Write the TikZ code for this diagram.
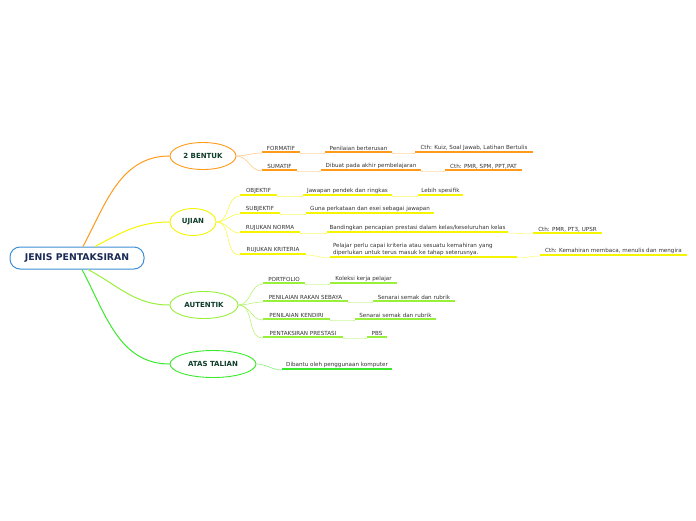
\documentclass[tikz,border=0pt]{standalone}
\usepackage{fontspec}
\setmainfont{DejaVu Sans}
\usepackage{tikz}
\usetikzlibrary{shapes.geometric,positioning,calc}

\definecolor{rootblue}{HTML}{3D8FD6}
\definecolor{rootink}{HTML}{1B2A55}
\definecolor{topink}{HTML}{0F3D2A}
\definecolor{leafink}{HTML}{333333}
\definecolor{bOrange}{HTML}{FF9A1A}
\definecolor{bYellow}{HTML}{F5F500}
\definecolor{bLime}{HTML}{99F03C}
\definecolor{bGreen}{HTML}{3AEA2A}

\begin{document}
\begin{tikzpicture}[x=1pt,y=-1pt,
    root/.style={rectangle,draw=rootblue,line width=1pt,rounded corners=10pt,
                 fill=white,minimum width=134pt,minimum height=22pt,
                 text=rootink,font=\bfseries\fontsize{9.3}{11}\selectfont},
    topic/.style={ellipse,draw=#1,line width=0.9pt,fill=white,inner sep=0pt,
                  minimum height=27pt,text=topink,
                  font=\bfseries\fontsize{7}{8}\selectfont},
    leaf/.style={inner xsep=1pt,inner ysep=2pt,anchor=south,text=leafink,
                 font=\fontsize{5.6}{7}\selectfont,
                 path picture={\draw[#1,line width=3pt]
                   (path picture bounding box.south west) --
                   (path picture bounding box.south east);}},
    branch/.style={draw=#1,line width=1pt},
    link/.style={draw=#1,line width=0.5pt}]
    \useasboundingbox (0,0) rectangle (696,520);

    % centre
    \node[root](root) at (77,258){JENIS PENTAKSIRAN};

    % main topics
    \node[topic=bOrange,minimum width=66pt](bentuk) at (203,156){2 BENTUK};
    \node[topic=bYellow,minimum width=46pt](ujian) at (193,222){UJIAN};
    \node[topic=bLime,minimum width=68pt](autentik) at (204,305){AUTENTIK};
    \node[topic=bGreen,minimum width=86pt](talian) at (213,364){ATAS TALIAN};

    \draw[branch=bOrange]($(root.north)+(6,0)$) to[out=62,in=180](bentuk.west);
    \draw[branch=bYellow]($(root.north)+(18,0)$) to[out=28,in=180](ujian.west);
    \draw[branch=bLime]($(root.south)+(11,0)$) to[out=-28,in=180](autentik.west);
    \draw[branch=bGreen]($(root.south)+(5,0)$) to[out=-62,in=180](talian.west);

    % 2 BENTUK
    \node[leaf=bOrange,minimum width=38pt](formatif) at (281,153){FORMATIF};
    \node[leaf=bOrange,minimum width=67pt](fdesc) at (358.5,153){Penilaian berterusan};
    \node[leaf=bOrange,minimum width=118pt](fcth) at (474,153){Cth: Kuiz, Soal Jawab, Latihan Bertulis};
    \node[leaf=bOrange,minimum width=35pt](sumatif) at (279.5,171){SUMATIF};
    \node[leaf=bOrange,minimum width=100pt](sdesc) at (371,171){Dibuat pada akhir pembelajaran};
    \node[leaf=bOrange,minimum width=77pt](scth) at (483.5,171){Cth: PMR, SPM, PPT,PAT};

    \draw[link=bOrange!60](bentuk.east) to[out=0,in=180](formatif.south west);
    \draw[link=bOrange!60](bentuk.east) to[out=0,in=180](sumatif.south west);
    \draw[link=bOrange!40](formatif.south east) to[out=0,in=180](fdesc.south west);
    \draw[link=bOrange!40](fdesc.south east) to[out=0,in=180](fcth.south west);
    \draw[link=bOrange!40](sumatif.south east) to[out=0,in=180](sdesc.south west);
    \draw[link=bOrange!40](sdesc.south east) to[out=0,in=180](scth.south west);

    % UJIAN
    \node[leaf=bYellow,minimum width=37pt](objektif) at (258.5,196){OBJEKTIF};
    \node[leaf=bYellow,minimum width=89pt](odesc) at (347.5,196){Jawapan pendek dan ringkas};
    \node[leaf=bYellow,minimum width=45pt](olebih) at (440.5,196){Lebih spesifik};
    \node[leaf=bYellow,minimum width=40pt](subjektif) at (260,214){SUBJEKTIF};
    \node[leaf=bYellow,minimum width=128pt](sbdesc) at (370,214){Guna perkataan dan esei sebagai jawapan};
    \node[leaf=bYellow,minimum width=60pt](norma) at (270,233){RUJUKAN NORMA};
    \node[leaf=bYellow,minimum width=181pt](ndesc) at (417.5,233){Bandingkan pencapian prestasi dalam kelas/keseluruhan kelas};
    \node[leaf=bYellow,minimum width=69pt](ncth) at (567.5,234){Cth: PMR, PT3, UPSR};
    \node[leaf=bYellow,minimum width=66pt](kriteria) at (273,255){RUJUKAN KRITERIA};
    \node[leaf=bYellow,text width=181pt,inner xsep=3pt,align=left](kdesc) at (423.5,258)
        {Pelajar perlu capai kriteria atau sesuatu kemahiran yang\\diperlukan untuk terus masuk ke tahap seterusnya.};
    \node[leaf=bYellow,minimum width=147pt](kcth) at (613.5,256){Cth: Kemahiran membaca, menulis dan mengira};

    \foreach \n in {objektif,subjektif,norma,kriteria}
        \draw[link=bYellow!80](ujian.east) to[out=0,in=180](\n.south west);
    \draw[link=bYellow!60](objektif.south east) to[out=0,in=180](odesc.south west);
    \draw[link=bYellow!60](odesc.south east) to[out=0,in=180](olebih.south west);
    \draw[link=bYellow!60](subjektif.south east) to[out=0,in=180](sbdesc.south west);
    \draw[link=bYellow!60](norma.south east) to[out=0,in=180](ndesc.south west);
    \draw[link=bYellow!60](ndesc.south east) to[out=0,in=180](ncth.south west);
    \draw[link=bYellow!60](kriteria.south east) to[out=0,in=180](kdesc.south west);
    \draw[link=bYellow!60](kdesc.south east) to[out=0,in=180](kcth.south west);

    % AUTENTIK
    \node[leaf=bLime,minimum width=42pt](portfolio) at (284,284){PORTFOLIO};
    \node[leaf=bLime,minimum width=67pt](pdesc) at (363.5,284){Koleksi kerja pelajar};
    \node[leaf=bLime,minimum width=85pt](rakan) at (305.5,302){PENILAIAN RAKAN SEBAYA};
    \node[leaf=bLime,minimum width=82pt](rdesc) at (414,302){Senarai semak dan rubrik};
    \node[leaf=bLime,minimum width=67pt](kendiri) at (296.5,320){PENILAIAN KENDIRI};
    \node[leaf=bLime,minimum width=81pt](kddesc) at (395.5,320){Senarai semak dan rubrik};
    \node[leaf=bLime,minimum width=80pt](prestasi) at (303,338){PENTAKSIRAN PRESTASI};
    \node[leaf=bLime,minimum width=20pt](pbs) at (377,338){PBS};

    \foreach \n in {portfolio,rakan,kendiri,prestasi}
        \draw[link=bLime!80](autentik.east) to[out=0,in=180](\n.south west);
    \draw[link=bLime!50](portfolio.south east) to[out=0,in=180](pdesc.south west);
    \draw[link=bLime!50](rakan.south east) to[out=0,in=180](rdesc.south west);
    \draw[link=bLime!50](kendiri.south east) to[out=0,in=180](kddesc.south west);
    \draw[link=bLime!50](prestasi.south east) to[out=0,in=180](pbs.south west);

    % ATAS TALIAN
    \node[leaf=bGreen,minimum width=110pt](komputer) at (337,370){Dibantu oleh penggunaan komputer};
    \draw[link=bGreen!70](talian.east) to[out=0,in=180](komputer.south west);
\end{tikzpicture}
\end{document}
